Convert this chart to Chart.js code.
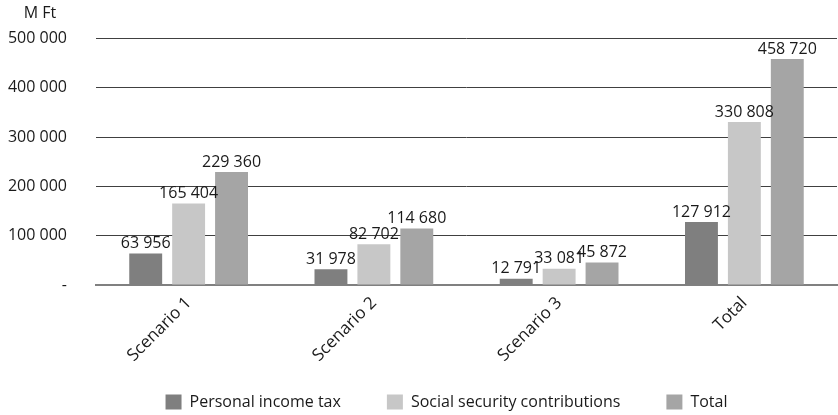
<!DOCTYPE html>
<html>
<head>
<meta charset="utf-8">
<script src="https://cdn.jsdelivr.net/npm/chart.js@4/dist/chart.umd.min.js"></script>
<style>
  html, body { margin: 0; padding: 0; background: #fff; }
  #wrap { width: 838px; height: 415px; }
</style>
</head>
<body>
<div id="wrap"><canvas id="taxChart"></canvas></div>
<script>
const categories = ["Scenario 1", "Scenario 2", "Scenario 3", "Total"];
const incomeTax = [63956, 31978, 12791, 127912];
const socialSecurity = [165404, 82702, 33081, 330808];
const totals = [229360, 114680, 45872, 458720];
const yTicks = [0, 100000, 200000, 300000, 400000, 500000];

const FONT = '"Open Sans"';
const fmt = v => v === 0 ? '-' : String(v).replace(/\B(?=(\d{3})+(?!\d))/g, ' ');

// value labels above each bar, plus the unit caption above the y axis
const barLabels = {
  id: 'barLabels',
  afterLayout(chart) {
    // legend sits a little right of the canvas centre
    chart.legend.left += 28;
    chart.legend.right += 28;
  },
  afterDatasetsDraw(chart) {
    const ctx = chart.ctx;
    ctx.save();
    ctx.font = '16px ' + FONT;
    ctx.fillStyle = '#1a1a1a';
    ctx.textAlign = 'center';
    ctx.textBaseline = 'bottom';
    chart.data.datasets.forEach((ds, i) => {
      chart.getDatasetMeta(i).data.forEach((bar, j) => {
        ctx.fillText(fmt(ds.data[j]), bar.x, bar.y - 2);
      });
    });
    ctx.textBaseline = 'middle';
    ctx.fillText('M Ft', 40, 13);
    ctx.restore();
  }
};

new Chart(document.getElementById('taxChart'), {
  type: 'bar',
  data: {
    labels: categories,
    datasets: [
      { label: 'Personal income tax', data: incomeTax, backgroundColor: '#7f7f7f' },
      { label: 'Social security contributions', data: socialSecurity, backgroundColor: '#c7c7c7' },
      { label: 'Total', data: totals, backgroundColor: '#a5a5a5' }
    ]
  },
  options: {
    responsive: true,
    maintainAspectRatio: false,
    animation: false,
    layout: { padding: { top: 32, right: 1, left: 0, bottom: -5 } },
    datasets: { bar: { categoryPercentage: 0.695, barPercentage: 0.767 } },
    plugins: {
      tooltip: { enabled: false },
      legend: {
        position: 'bottom',
        labels: {
          font: { family: FONT, size: 16 },
          color: '#1a1a1a',
          boxWidth: 16,
          boxHeight: 15,
          padding: 46
        }
      }
    },
    scales: {
      x: {
        afterFit: axis => {
          axis.height = 63;
          // let the slanted labels run below the axis box
          axis._computeLabelArea = () => undefined;
        },
        grid: { display: false, drawTicks: false },
        border: { color: '#808080', width: 2 },
        ticks: {
          font: { family: FONT, size: 17 },
          color: '#1a1a1a',
          minRotation: 45,
          maxRotation: 45,
          padding: 8
        }
      },
      y: {
        min: 0,
        max: 500000,
        afterBuildTicks: axis => { axis.ticks = yTicks.map(v => ({ value: v })); },
        afterFit: axis => { axis.width = 96; },
        grid: {
          color: c => c.tick && c.tick.value === 0 ? 'rgba(0,0,0,0)' : '#404040',
          drawTicks: false
        },
        border: { display: false },
        ticks: {
          font: { family: FONT, size: 16 },
          color: '#1a1a1a',
          padding: 29,
          callback: v => fmt(v)
        }
      }
    }
  },
  plugins: [barLabels]
});
</script>
</body>
</html>
